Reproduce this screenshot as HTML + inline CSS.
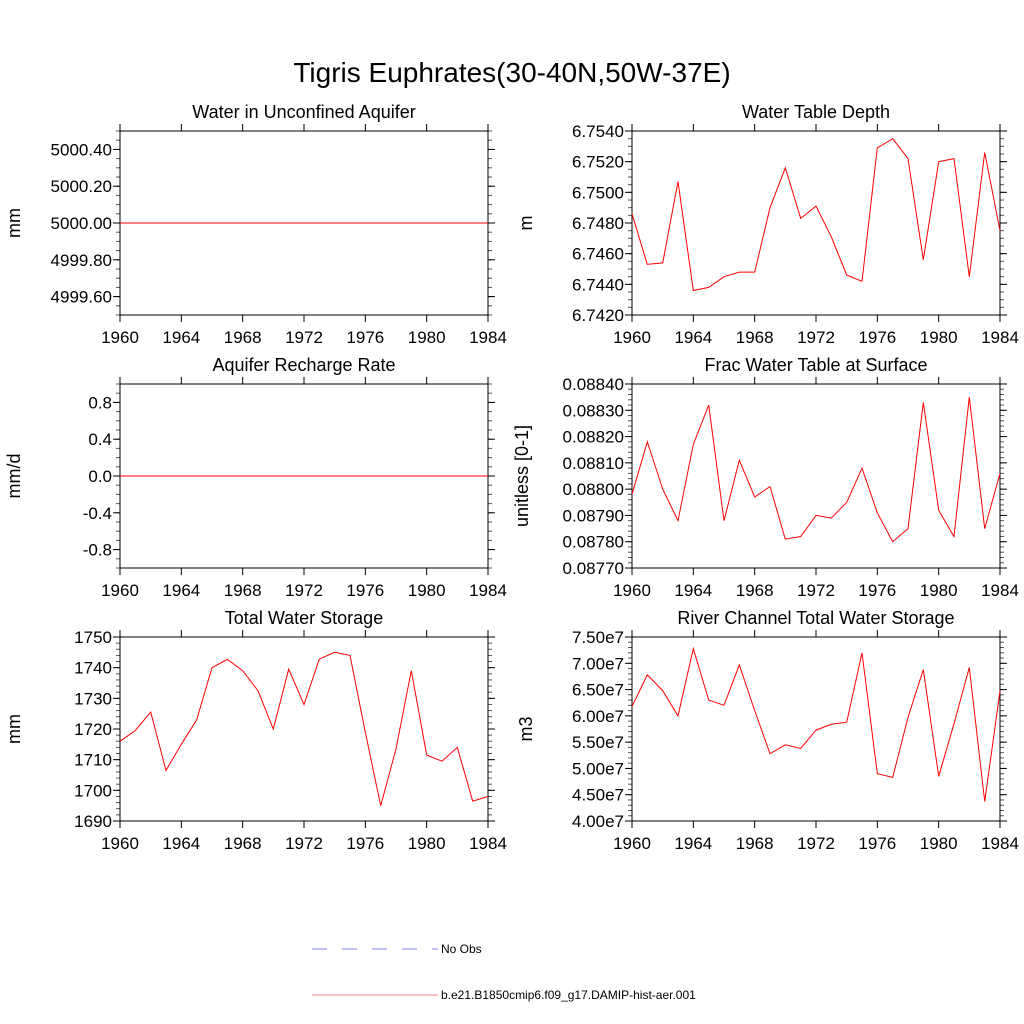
<!DOCTYPE html>
<html><head><meta charset="utf-8"><style>
body{margin:0;background:#fff}
svg{display:block;font-family:"Liberation Sans",sans-serif}
</style></head><body>
<svg id="c" width="1024" height="1024" viewBox="0 0 1024 1024">
<text x="512" y="82" font-size="28" text-anchor="middle">Tigris Euphrates(30-40N,50W-37E)</text>
<g>
<line x1="312" y1="949" x2="438" y2="949" stroke="#8080ff" stroke-width="1" stroke-dasharray="15,15"/>
<text x="441" y="953" font-size="12">No Obs</text>
<line x1="312" y1="995" x2="438" y2="995" stroke="#ff8080" stroke-width="1"/>
<text x="441" y="999" font-size="12">b.e21.B1850cmip6.f09_g17.DAMIP-hist-aer.001</text>
</g>
</svg>
<script>
const years=[1960,1961,1962,1963,1964,1965,1966,1967,1968,1969,1970,1971,1972,1973,1974,1975,1976,1977,1978,1979,1980,1981,1982,1983,1984];
const xTicks=[1960,1964,1968,1972,1976,1980,1984];
const aquiferVals=years.map(()=>5000.0);
const rechargeVals=years.map(()=>0.0);
const wtdVals=[6.7486,6.7453,6.7454,6.7507,6.7436,6.7438,6.7445,6.7448,6.7448,6.7490,6.7516,6.7483,6.7491,6.7471,6.7446,6.7442,6.7529,6.7535,6.7522,6.7456,6.7520,6.7522,6.7445,6.7526,6.7475];
const fracVals=[0.08798,0.08818,0.08800,0.08788,0.08817,0.08832,0.08788,0.08811,0.08797,0.08801,0.08781,0.08782,0.08790,0.08789,0.08795,0.08808,0.08791,0.08780,0.08785,0.08833,0.08792,0.08782,0.08835,0.08785,0.08806];
const twsVals=[1716,1719.5,1725.5,1706.5,1715,1723,1740,1742.7,1739,1732.5,1720,1739.5,1728,1742.8,1745,1744,1719,1695,1713.5,1739,1711.5,1709.5,1714,1696.5,1698];
const riverVals=[6.18e7,6.78e7,6.48e7,6.0e7,7.28e7,6.3e7,6.2e7,6.97e7,6.1e7,5.28e7,5.45e7,5.38e7,5.73e7,5.84e7,5.88e7,7.2e7,4.9e7,4.83e7,5.97e7,6.88e7,4.85e7,5.85e7,6.92e7,4.37e7,6.47e7];
const aquiferTicks=["4999.60","4999.80","5000.00","5000.20","5000.40"];
const rechargeTicks=["-0.8","-0.4","0.0","0.4","0.8"];
const wtdTicks=["6.7420","6.7440","6.7460","6.7480","6.7500","6.7520","6.7540"];
const fracTicks=["0.08770","0.08780","0.08790","0.08800","0.08810","0.08820","0.08830","0.08840"];
const twsTicks=["1690","1700","1710","1720","1730","1740","1750"];
const riverTicks=["4.00e7","4.50e7","5.00e7","5.50e7","6.00e7","6.50e7","7.00e7","7.50e7"];

const NS="http://www.w3.org/2000/svg";
const svg=document.getElementById('c');
function mk(t,a,p){const e=document.createElementNS(NS,t);for(const k in a)e.setAttribute(k,a[k]);(p||svg).appendChild(e);return e;}

const panels=[
 {name:'water-in-unconfined-aquifer',title:'Water in Unconfined Aquifer',unit:'mm',x0:120,y0:131,vals:aquiferVals,ticks:aquiferTicks,ymin:4999.5,ymax:5000.5,minor:0.05},
 {name:'water-table-depth',title:'Water Table Depth',unit:'m',x0:632,y0:131,vals:wtdVals,ticks:wtdTicks,ymin:6.742,ymax:6.754,minor:0.0005},
 {name:'aquifer-recharge-rate',title:'Aquifer Recharge Rate',unit:'mm/d',x0:120,y0:384,vals:rechargeVals,ticks:rechargeTicks,ymin:-1,ymax:1,minor:0.1},
 {name:'frac-water-table-at-surface',title:'Frac Water Table at Surface',unit:'unitless [0-1]',x0:632,y0:384,vals:fracVals,ticks:fracTicks,ymin:0.0877,ymax:0.0884,minor:0.00002},
 {name:'total-water-storage',title:'Total Water Storage',unit:'mm',x0:120,y0:637,vals:twsVals,ticks:twsTicks,ymin:1690,ymax:1750,minor:2},
 {name:'river-channel-total-water-storage',title:'River Channel Total Water Storage',unit:'m3',x0:632,y0:637,vals:riverVals,ticks:riverTicks,ymin:4.0e7,ymax:7.5e7,minor:0.1e7}
];
const W=368,H=184;
panels.forEach(p=>{
 const g=mk('g',{});
 
 
 const xs=v=>p.x0+(v-1960)/(1984-1960)*W;
 const ys=v=>p.y0+H-(v-p.ymin)/(p.ymax-p.ymin)*H;
 const t=mk('text',{x:p.x0+W/2,y:p.y0-13,'font-size':18,'text-anchor':'middle'},g);
 t.textContent=p.title;
 
 
 const u=mk('text',{x:0,y:0,'font-size':18,'text-anchor':'middle',transform:`translate(${p.x0-100},${p.y0+H/2}) rotate(-90)`},g);
 if(p.unit.length>6)u.setAttribute('transform',`translate(${p.x0-104},${p.y0+H/2}) rotate(-90)`);
 u.textContent=p.unit;
 
 
 // minor ticks
 const n=Math.round((p.ymax-p.ymin)/p.minor);
 for(let i=0;i<=n;i++){const yy=p.y0+H-i/n*H;
  mk('line',{x1:p.x0-4,x2:p.x0,y1:yy,y2:yy,stroke:'#555','stroke-width':1},g);
  mk('line',{x1:p.x0+W,x2:p.x0+W+4,y1:yy,y2:yy,stroke:'#555','stroke-width':1},g);}
 p.ticks.forEach(tk=>{const yy=ys(parseFloat(tk));
  mk('line',{x1:p.x0-7,x2:p.x0,y1:yy,y2:yy,stroke:'#000','stroke-width':1},g);
  mk('line',{x1:p.x0+W,x2:p.x0+W+7,y1:yy,y2:yy,stroke:'#000','stroke-width':1},g);
  const l=mk('text',{x:p.x0-8,y:yy+6,'font-size':17,'text-anchor':'end'},g);
  l.textContent=tk;
  
  });
 xTicks.forEach(tk=>{const xx=xs(tk);
  mk('line',{x1:xx,x2:xx,y1:p.y0+H,y2:p.y0+H+7,stroke:'#000','stroke-width':1},g);
  mk('line',{x1:xx,x2:xx,y1:p.y0-7,y2:p.y0,stroke:'#000','stroke-width':1},g);
  const l=mk('text',{x:xx,y:p.y0+H+28,'font-size':17,'text-anchor':'middle'},g);
  l.textContent=tk;
  
  });
 const r=mk('rect',{x:p.x0,y:p.y0,width:W,height:H,fill:'none',stroke:'#000','stroke-width':1},g);
 
 
 const pts=p.vals.map((v,i)=>xs(years[i]).toFixed(1)+','+ys(v).toFixed(1)).join(' ');
 const pl=mk('polyline',{points:pts,fill:'none',stroke:'#ff0000','stroke-width':1},g);
 
 
});
</script>
</body></html>
